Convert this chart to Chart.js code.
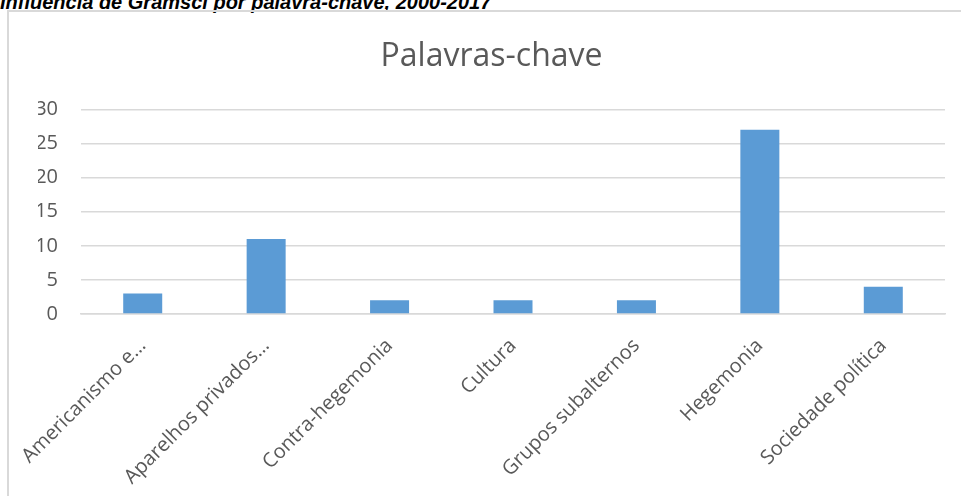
<!DOCTYPE html>
<html>
<head>
<meta charset="utf-8">
<script src="https://cdn.jsdelivr.net/npm/chart.js@4"></script>
<style>
  body { margin: 0; background: #fff; width: 961px; height: 496px; overflow: hidden; position: relative; }
  .heading {
    position: absolute; left: 0; top: -8px;
    font-family: "Liberation Sans", Arial, sans-serif; font-weight: bold; font-style: italic;
    font-size: 20px; line-height: 20px; color: #000; white-space: nowrap;
  }
  .box {
    position: absolute; left: 7px; top: 10px; width: 980px; height: 520px;
    border: 2px solid #d9d9d9; box-sizing: border-box;
  }
  .chartWrap { position: absolute; left: 7px; top: 10px; width: 954px; height: 486px; }
</style>
</head>
<body>
<div class="heading">Influência de Gramsci por palavra-chave, 2000-2017</div>
<div class="box"></div>
<div class="chartWrap"><canvas id="myChart"></canvas></div>
<script>
const categories = ["Americanismo e…", "Aparelhos privados…", "Contra-hegemonia", "Cultura", "Grupos subalternos", "Hegemonia", "Sociedade política"];
const values = [3, 11, 2, 2, 2, 27, 4];
const yTicks = [0, 5, 10, 15, 20, 25, 30];

const ctx = document.getElementById("myChart").getContext("2d");
new Chart(ctx, {
  type: "bar",
  data: {
    labels: categories,
    datasets: [{
      label: "Palavras-chave",
      data: values,
      backgroundColor: "#5b9bd5",
      borderWidth: 0,
      barPercentage: 1,
      categoryPercentage: 0.316
    }]
  },
  options: {
    responsive: true,
    maintainAspectRatio: false,
    animation: false,
    layout: { padding: { left: 31, right: 16, top: 0, bottom: 0 } },
    plugins: {
      legend: { display: false },
      tooltip: { enabled: false },
      title: {
        display: true,
        text: "Palavras-chave",
        color: "#595959",
        font: { family: "Open Sans", size: 32, weight: "normal", lineHeight: 1.2 },
        padding: { top: 28, bottom: 33 }
      }
    },
    scales: {
      x: {
        grid: { display: false, drawTicks: false },
        border: { display: true, color: "#d9d9d9", width: 1.5 },
        ticks: {
          color: "#595959",
          font: { family: "Open Sans", size: 20 },
          minRotation: 45, maxRotation: 45,
          autoSkip: false,
          padding: 20
        },
        afterFit: function (scale) {
          scale.height = 182;
          scale.paddingLeft = 0;
          scale.paddingRight = 0;
        }
      },
      y: {
        min: 0, max: 30,
        afterBuildTicks: function (scale) { scale.ticks = yTicks.map(v => ({ value: v })); },
        grid: { color: "#d9d9d9", lineWidth: 1.5, drawTicks: false },
        border: { display: false },
        ticks: {
          color: "#595959",
          font: { family: "Open Sans", size: 20 },
          padding: 23
        },
        afterFit: function (scale) { scale.width = 43; }
      }
    }
  }
});
</script>
</body>
</html>
